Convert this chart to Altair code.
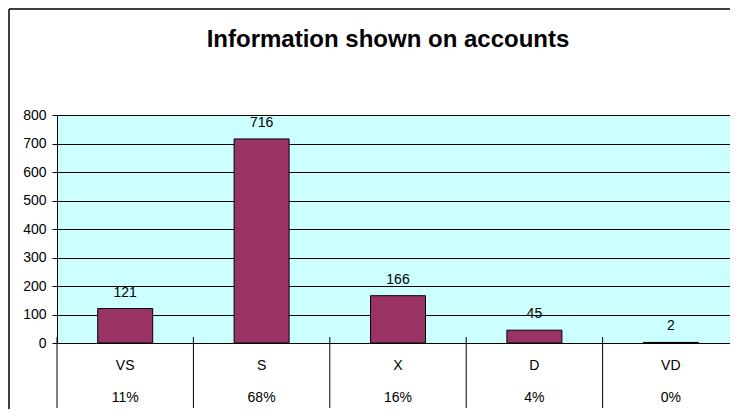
import altair as alt
import pandas as pd

categories = ["VS", "S", "X", "D", "VD"]
counts = [121, 716, 166, 45, 2]
percents = ["11%", "68%", "16%", "4%", "0%"]
title_text = "Information shown on accounts"

df = pd.DataFrame({"cat": categories, "count": counts, "pct": percents})

FONT = "Liberation Sans"
W, H = 673, 228

x_scale = alt.Scale(paddingInner=0, paddingOuter=0, range=[0, 682])
x_axis = alt.Axis(labels=False, ticks=False, title=None, grid=False,
                  domainColor="black", domainWidth=1)
y_scale = alt.Scale(domain=[0, 800], nice=False)
y_axis = alt.Axis(values=list(range(0, 801, 100)), title=None,
                  labelFont=FONT, labelFontSize=14, labelColor="black",
                  labelOverlap=False,
                  tickSize=5, tickColor="black", labelPadding=6,
                  domainColor="black", gridColor="black", gridWidth=1,
                  grid=True)

xenc = alt.X("cat:N", sort=categories, scale=x_scale, axis=x_axis)
yenc = alt.Y("count:Q", scale=y_scale, axis=y_axis)

base = alt.Chart(df)

bars = base.mark_bar(width=55, color="#993366", stroke="black", strokeWidth=1).encode(
    x=xenc, y=yenc)

labels = base.mark_text(font=FONT, fontSize=14, color="black", baseline="alphabetic",
                        dy=-12).encode(x=xenc, y=yenc, text="count:Q")

seps = base.mark_rule(color="black", strokeWidth=1).encode(
    x=alt.X("cat:N", sort=categories, scale=x_scale, axis=x_axis, bandPosition=0),
    y=alt.value(222),
    y2=alt.value(293),
)

cat_text = base.mark_text(font=FONT, fontSize=14, color="black", baseline="alphabetic").encode(
    x=xenc, y=alt.value(255), text="cat:N")

pct_text = base.mark_text(font=FONT, fontSize=14, color="black", baseline="alphabetic").encode(
    x=xenc, y=alt.value(287), text="pct:N")

one = pd.DataFrame({"t": [title_text]})
title = alt.Chart(one).mark_text(font=FONT, fontSize=24, fontWeight="bold", color="black",
                                 baseline="alphabetic", align="center").encode(
    x=alt.value(331), y=alt.value(-68.3), text="t:N")

frame_left = alt.Chart(one).mark_rule(color="black", strokeWidth=1.5).encode(
    x=alt.value(-48), y=alt.value(-106), y2=alt.value(310))
frame_top = alt.Chart(one).mark_rule(color="black", strokeWidth=1.5).encode(
    x=alt.value(-48), x2=alt.value(700), y=alt.value(-106))

chart = alt.layer(bars, labels, seps, cat_text, pct_text, title, frame_left, frame_top).properties(
    width=W, height=H,
    autosize=alt.AutoSizeParams(type="none"),
    padding={"left": 49, "top": 107, "right": 0, "bottom": 66},
).configure_view(fill="#CCFFFF", strokeWidth=0)

chart.save("out.html", embed_options={"renderer": "svg", "actions": False})
